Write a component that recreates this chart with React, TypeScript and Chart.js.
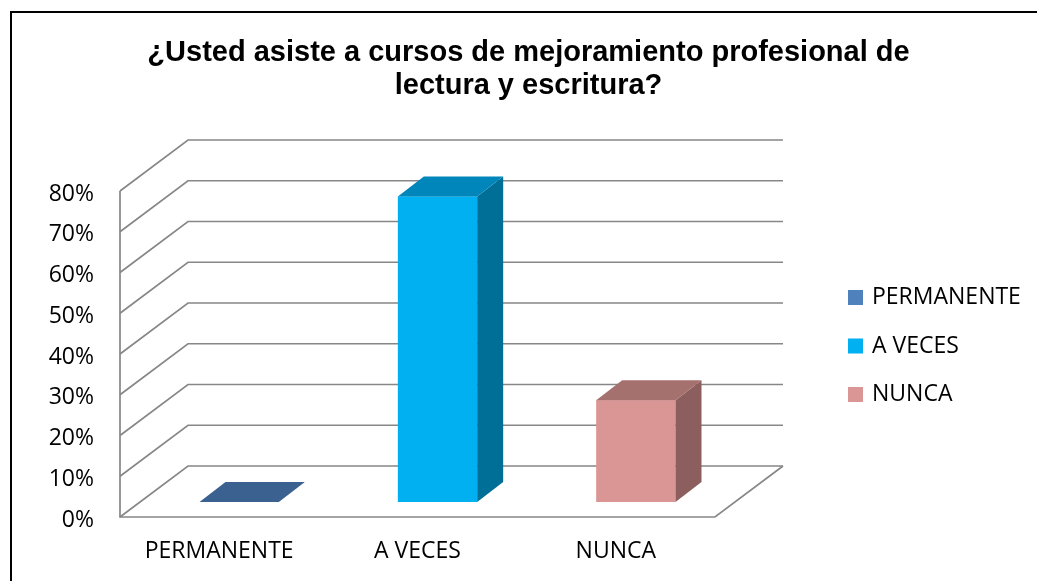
import React, { useEffect, useRef } from 'react';
import { Chart, registerables } from 'chart.js';

Chart.register(...registerables);

// ---------- data ----------
const TITLE_LINES = ['¿Usted asiste a cursos de mejoramiento profesional de', 'lectura y escritura?'];
const CATEGORIES = ['PERMANENTE', 'A VECES', 'NUNCA'];
const VALUES = [0, 75, 25]; // percent
const Y_TICK_LABELS = ['0%', '10%', '20%', '30%', '40%', '50%', '60%', '70%', '80%'];
const Y_MIN = 0;
const Y_MAX = 80;
const Y_STEP = 10;

// ---------- styles ----------
const FRONT_COLORS = ['#4F81BD', '#00B0F0', '#D99694'];
const SIDE_COLORS = ['#2C4D75', '#006F98', '#8C5F5E'];
const TOP_COLORS = ['#3B6190', '#0086BA', '#A5716F'];
const LEGEND_COLORS = ['#4F81BD', '#00B0F0', '#D99694'];
const GRID_COLOR = '#878787';
const TEXT_COLOR = '#000000';

const W = 1037;
const H = 692;
const LABEL_FONT = '"Open Sans", sans-serif';
const LABEL_SIZE = 23;
const TITLE_FONT = '"Liberation Sans", Arial, sans-serif';
const TITLE_SIZE = 29;
const TITLE_LH = 1.15;
const TITLE_CX = 528.5;

const PLOT_LEFT = 120;
const PLOT_RIGHT = 715;
const PLOT_BOTTOM = 517;

const WALL_DX = 68;
const WALL_DY = 51;
const BAR_OFF_X = 20;
const BAR_OFF_Y = 15;
const BAR_DX = 26;
const BAR_DY = 20;

const LEG_BOX = 10;
const LEG_LW = 5;
const LEG_PAD = 25.5;
const LEG_X = 848;

function computeLayout() {
  const c = document.createElement('canvas').getContext('2d') as CanvasRenderingContext2D;
  c.font = `normal ${LABEL_SIZE}px ${LABEL_FONT}`;
  const maxText = Math.max(...CATEGORIES.map((t) => c.measureText(t).width));
  const itemWidth = LEG_BOX + LABEL_SIZE / 2 + maxText;
  const legendW = LEG_PAD + itemWidth + 10;
  const padR = W - legendW + LEG_PAD - LEG_LW / 2 - LEG_X;
  const padL = padR + (2 * TITLE_CX - W);
  const yW = PLOT_LEFT - padL;
  const dummyW = W - padR - legendW - PLOT_RIGHT;
  return { padR, padL, yW, dummyW };
}

const threeDPlugin = {
  id: 'threeD',
  beforeDatasetsDraw(chart: any) {
    const { ctx, chartArea } = chart;
    const ys = chart.scales.y;
    const { left, right, top, bottom } = chartArea;
    ctx.save();
    ctx.strokeStyle = GRID_COLOR;
    ctx.lineWidth = 1.7;
    ctx.lineJoin = 'miter';
    ys.ticks.forEach((t: any) => {
      const y = ys.getPixelForValue(t.value);
      ctx.beginPath();
      ctx.moveTo(left, y);
      ctx.lineTo(left + WALL_DX, y - WALL_DY);
      ctx.lineTo(right + WALL_DX, y - WALL_DY);
      ctx.stroke();
    });
    ctx.beginPath();
    ctx.moveTo(left, top);
    ctx.lineTo(left, bottom);
    ctx.lineTo(right, bottom);
    ctx.lineTo(right + WALL_DX, bottom - WALL_DY);
    ctx.stroke();
    ctx.restore();
  },
  afterDatasetsDraw(chart: any) {
    const { ctx } = chart;
    const meta = chart.getDatasetMeta(0);
    ctx.save();
    meta.data.forEach((el: any, i: number) => {
      const p = el.getProps(['x', 'y', 'base', 'width'], true);
      const l = p.x - p.width / 2 + BAR_OFF_X;
      const r = p.x + p.width / 2 + BAR_OFF_X;
      const t = Math.min(p.y, p.base) - BAR_OFF_Y;
      const b = Math.max(p.y, p.base) - BAR_OFF_Y;
      if (b - t > 0.5) {
        ctx.fillStyle = FRONT_COLORS[i];
        ctx.fillRect(l, t, r - l, b - t);
        ctx.fillStyle = SIDE_COLORS[i];
        ctx.beginPath();
        ctx.moveTo(r, t);
        ctx.lineTo(r + BAR_DX, t - BAR_DY);
        ctx.lineTo(r + BAR_DX, b - BAR_DY);
        ctx.lineTo(r, b);
        ctx.closePath();
        ctx.fill();
      }
      ctx.fillStyle = TOP_COLORS[i];
      ctx.beginPath();
      ctx.moveTo(l, t);
      ctx.lineTo(l + BAR_DX, t - BAR_DY);
      ctx.lineTo(r + BAR_DX, t - BAR_DY);
      ctx.lineTo(r, t);
      ctx.closePath();
      ctx.fill();
    });
    ctx.restore();
  },
  afterDraw(chart: any) {
    const { ctx } = chart;
    ctx.save();
    ctx.fillStyle = '#000000';
    ctx.fillRect(10, 11, W, 2);
    ctx.fillRect(10, 11, 2, H);
    ctx.restore();
  },
};

export default function App() {
  const ref = useRef<HTMLCanvasElement | null>(null);

  useEffect(() => {
    if (!ref.current) return;
    const L = computeLayout();
    const titleLineH = TITLE_SIZE * TITLE_LH;
    const titleTop = 53 - titleLineH / 2;
    const titleBottom = 191 - titleTop - 2 * titleLineH;

    const chart = new Chart(ref.current, {
      type: 'bar',
      data: {
        labels: CATEGORIES,
        datasets: [
          {
            label: 'Serie',
            data: VALUES,
            backgroundColor: 'rgba(0,0,0,0)',
            borderWidth: 0,
            barPercentage: 0.4,
            categoryPercentage: 1,
            yAxisID: 'y',
            xAxisID: 'x',
          },
        ],
      },
      options: {
        responsive: false,
        animation: false,
        events: [],
        layout: { padding: { left: L.padL, right: L.padR, top: 0, bottom: 0 } },
        plugins: {
          tooltip: { enabled: false },
          title: {
            display: true,
            text: TITLE_LINES,
            color: TEXT_COLOR,
            font: { family: TITLE_FONT, size: TITLE_SIZE, weight: 'bold', lineHeight: TITLE_LH },
            padding: { top: titleTop, bottom: titleBottom },
          },
          legend: {
            display: true,
            position: 'right',
            fullSize: true,
            maxWidth: 1000,
            labels: {
              color: TEXT_COLOR,
              font: { family: LABEL_FONT, size: LABEL_SIZE },
              boxWidth: LEG_BOX,
              boxHeight: LEG_BOX,
              padding: LEG_PAD,
              generateLabels: () =>
                CATEGORIES.map((c, i) => ({
                  text: c,
                  fillStyle: LEGEND_COLORS[i],
                  strokeStyle: LEGEND_COLORS[i],
                  lineWidth: LEG_LW,
                  lineJoin: 'miter',
                  lineCap: 'butt',
                  hidden: false,
                  index: i,
                  datasetIndex: 0,
                  fontColor: TEXT_COLOR,
                })),
            },
          },
        },
        scales: {
          x: {
            type: 'category',
            position: 'bottom',
            offset: true,
            grid: { display: false, drawTicks: false },
            border: { display: false },
            ticks: {
              color: TEXT_COLOR,
              font: { family: LABEL_FONT, size: LABEL_SIZE },
              padding: 21,
              maxRotation: 0,
              autoSkip: false,
            },
            afterFit: (s: any) => {
              s.height = H - PLOT_BOTTOM;
            },
          },
          y: {
            type: 'linear',
            position: 'left',
            min: Y_MIN,
            max: Y_MAX,
            grid: { display: false, drawTicks: false },
            border: { display: false },
            ticks: {
              stepSize: Y_STEP,
              color: TEXT_COLOR,
              font: { family: LABEL_FONT, size: LABEL_SIZE },
              padding: 26,
              labelOffset: 3,
              callback: (_v: any, i: number) => Y_TICK_LABELS[i],
            },
            afterFit: (s: any) => {
              s.width = L.yW;
            },
          },
          pad: {
            type: 'linear',
            position: 'right',
            display: true,
            grid: { display: false, drawTicks: false },
            border: { display: false },
            ticks: { display: false },
            afterFit: (s: any) => {
              s.width = L.dummyW;
            },
          },
        },
      },
      plugins: [threeDPlugin],
    } as any);
    return () => chart.destroy();
  }, []);

  return (
    <div style={{ position: 'fixed', left: 0, top: 0, width: W, height: 581, overflow: 'hidden', background: '#fff' }}>
      <canvas ref={ref} width={W} height={H} style={{ display: 'block' }} />
    </div>
  );
}
